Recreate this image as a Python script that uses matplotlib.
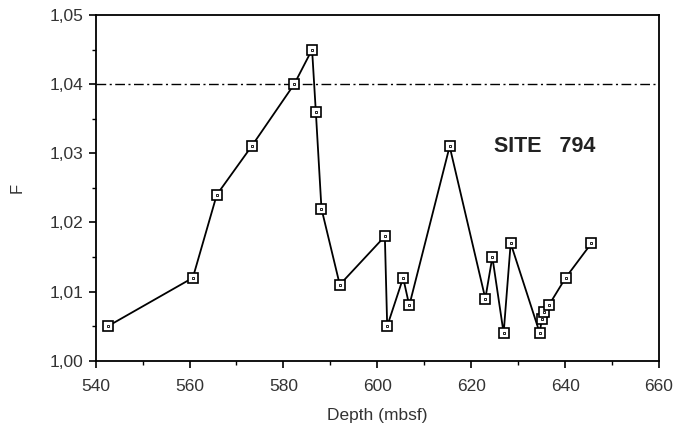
import matplotlib
matplotlib.use('Agg')
import matplotlib.pyplot as plt
from matplotlib.ticker import MultipleLocator, FuncFormatter

# depth (mbsf) and F values
depth = [542.6, 560.7, 565.8, 573.2, 582.3, 586.1, 586.9, 588.1, 592.0,
         601.6, 602.1, 605.5, 606.8, 615.4, 623.0, 624.5, 626.9, 628.4,
         634.6, 635.0, 635.5, 636.5, 640.1, 645.6]
f_values = [1.005, 1.012, 1.024, 1.031, 1.040, 1.045, 1.036, 1.022, 1.011,
            1.018, 1.005, 1.012, 1.008, 1.031, 1.009, 1.015, 1.004, 1.017,
            1.004, 1.006, 1.007, 1.008, 1.012, 1.017]
threshold = 1.04

plt.rcParams['font.family'] = ['Liberation Sans', 'DejaVu Sans']

fig = plt.figure(figsize=(6.93, 4.28), dpi=100)
ax = fig.add_axes([0.138, 0.157, 0.813, 0.808])

ax.axhline(threshold, color='black', lw=1.0, linestyle=(0, (7, 2.5, 1.5, 2.5)))
ax.plot(depth, f_values, color='black', lw=1.3, marker='s', markersize=6.5,
        markerfacecolor='white', markeredgecolor='black', markeredgewidth=1.2)
ax.plot(depth, f_values, linestyle='none', marker='s', markersize=1.8,
        markerfacecolor='white', markeredgecolor='black', markeredgewidth=0.6)

ax.set_xlim(540, 660)
ax.set_ylim(1.00, 1.05)
ax.xaxis.set_major_locator(MultipleLocator(20))
ax.xaxis.set_minor_locator(MultipleLocator(10))
ax.yaxis.set_major_locator(MultipleLocator(0.01))
ax.yaxis.set_minor_locator(MultipleLocator(0.005))
ax.yaxis.set_major_formatter(FuncFormatter(lambda v, p: f'{v:.2f}'.replace('.', ',')))
ax.tick_params(which='major', direction='out', length=5, width=1.2,
               labelsize=12.5, labelcolor='#333333')
ax.tick_params(axis='x', which='major', pad=8)
ax.tick_params(which='minor', direction='out', length=3, width=1.0)
for s in ax.spines.values():
    s.set_linewidth(1.3)

ax.set_xlabel('Depth (mbsf)', fontsize=12.5, color='#333333', labelpad=10)
ax.set_ylabel('F', fontsize=12, color='#333333', labelpad=18)
ax.text(624.8, 1.031, 'SITE   794', fontsize=15.5, fontweight='bold',
        va='center', color='#222222')

fig.savefig('out.png', dpi=100)
